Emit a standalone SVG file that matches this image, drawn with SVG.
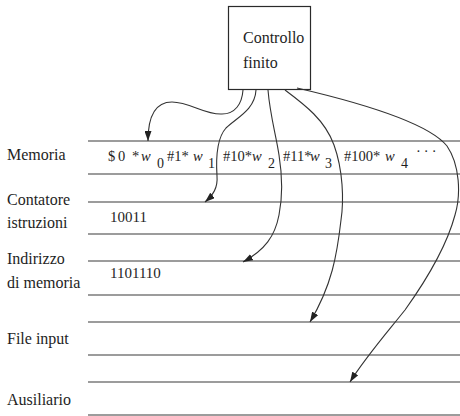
<svg xmlns="http://www.w3.org/2000/svg" width="460" height="416" viewBox="0 0 460 416">
  <style>
    .lbl { font-family: "Liberation Serif", "Times New Roman", serif; font-size: 16px; fill: #1e1e1e; }
    .dat { font-family: "Liberation Serif", "Times New Roman", serif; font-size: 15px; fill: #1e1e1e; }
    .row { font-size: 14.5px; }
    .w { font-style: italic; }
    .sub { font-size: 14px; }
    .rule { stroke: #3a3a3a; stroke-width: 1.2; fill: none; }
    .box { stroke: #2a2a2a; stroke-width: 1.2; fill: #ffffff; }
    .conn { stroke: #333333; stroke-width: 1.1; fill: none; marker-end: url(#arrow); }
  </style>
  <defs>
    <marker id="arrow" markerUnits="userSpaceOnUse" markerWidth="10" markerHeight="7" refX="10" refY="3.5" orient="auto">
      <path d="M0,0 L10,3.5 L0,7 z" fill="#222222"/>
    </marker>
  </defs>
  <rect width="460" height="416" fill="#ffffff"/>

  <!-- finite control -->
  <g id="controllo">
    <rect class="box" x="228.5" y="6.5" width="82" height="83"/>
    <text class="lbl" x="243" y="43">Controllo</text>
    <text class="lbl" x="243" y="68">finito</text>
  </g>

  <!-- tapes -->
  <g id="memoria">
    <line class="rule" x1="88" y1="141" x2="460" y2="141"/>
    <line class="rule" x1="88" y1="174" x2="460" y2="174"/>
    <text class="lbl" x="7" y="160">Memoria</text>
    <text class="dat row" y="161">
      <tspan x="108">$</tspan><tspan x="118">0</tspan><tspan x="132">*</tspan><tspan x="141" class="w">w</tspan><tspan x="157" y="168" class="sub">0</tspan>
      <tspan x="167" y="161">#1*</tspan><tspan x="193" class="w">w</tspan><tspan x="208" y="168" class="sub">1</tspan>
      <tspan x="223" y="161">#10*</tspan><tspan x="252" class="w">w</tspan><tspan x="268" y="168" class="sub">2</tspan>
      <tspan x="283" y="161">#11*</tspan><tspan x="310" class="w">w</tspan><tspan x="325" y="168" class="sub">3</tspan>
      <tspan x="344" y="161">#100*</tspan><tspan x="385" class="w">w</tspan><tspan x="401" y="168" class="sub">4</tspan>
      <tspan x="416" y="156" letter-spacing="3">···</tspan>
    </text>
  </g>

  <g id="contatore">
    <line class="rule" x1="88" y1="202" x2="460" y2="202"/>
    <line class="rule" x1="88" y1="234" x2="460" y2="234"/>
    <text class="lbl" x="7" y="205">Contatore</text>
    <text class="lbl" x="7" y="228">istruzioni</text>
    <text class="dat" x="110" y="222">10011</text>
  </g>

  <g id="indirizzo">
    <line class="rule" x1="88" y1="261" x2="460" y2="261"/>
    <line class="rule" x1="88" y1="295" x2="460" y2="295"/>
    <text class="lbl" x="7" y="264">Indirizzo</text>
    <text class="lbl" x="7" y="288">di memoria</text>
    <text class="dat" x="110" y="278">1101110</text>
  </g>

  <g id="input">
    <line class="rule" x1="88" y1="322" x2="460" y2="322"/>
    <line class="rule" x1="88" y1="355" x2="460" y2="355"/>
    <text class="lbl" x="7" y="344">File input</text>
  </g>

  <g id="ausiliario">
    <line class="rule" x1="88" y1="382" x2="460" y2="382"/>
    <line class="rule" x1="88" y1="415" x2="460" y2="415"/>
    <text class="lbl" x="7" y="405">Ausiliario</text>
  </g>

  <!-- heads from the control to each tape -->
  <g id="connectors">
    <path class="conn" d="M243,90 C242,104 235,114 222,114 C205,115 190,102 172,102 C156,102 148,116 148,141"/>
    <path class="conn" d="M256,90 C255,110 236,118 226,128 C216,139 216,160 217,176 C218,188 213,195 205,202"/>
    <path class="conn" d="M268,90 C270,115 276,135 279,155 C283,180 282,200 279,215 C275,236 265,250 243,262"/>
    <path class="conn" d="M285,90 C305,105 325,120 334,145 C343,170 344,200 341,220 C337,255 332,285 310,322"/>
    <path class="conn" d="M297,88 C370,105 430,125 447,146 C460,165 461,195 455,215 C447,245 430,275 405,310 C385,335 365,358 350,382"/>
  </g>
</svg>
